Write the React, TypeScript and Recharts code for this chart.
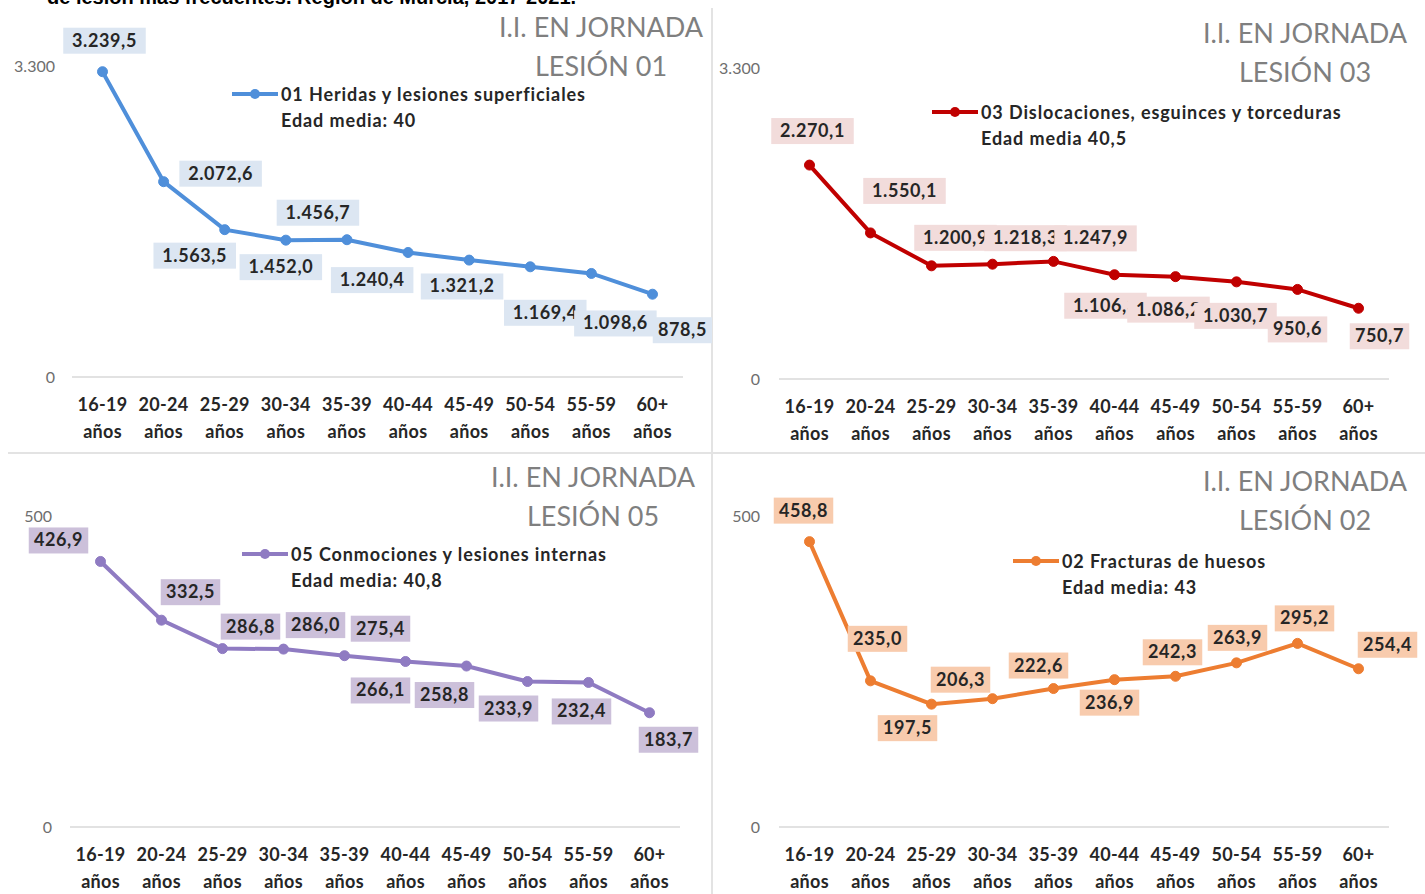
import React from 'react';
import { LineChart, Line, XAxis, YAxis, LabelList, Legend } from 'recharts';

// ---------- data ----------
const categories = ['16-19', '20-24', '25-29', '30-34', '35-39', '40-44', '45-49', '50-54', '55-59', '60+'];
const ageSuffix = 'años';

const lesion01Values = [3239.5, 2072.6, 1563.5, 1452.0, 1456.7, 1321.2, 1240.4, 1169.4, 1098.6, 878.5];
const lesion03Values = [2270.1, 1550.1, 1200.9, 1218.3, 1247.9, 1106.3, 1086.2, 1030.7, 950.6, 750.7];
const lesion05Values = [426.9, 332.5, 286.8, 286.0, 275.4, 266.1, 258.8, 233.9, 232.4, 183.7];
const lesion02Values = [458.8, 235.0, 197.5, 206.3, 222.6, 236.9, 242.3, 263.9, 295.2, 254.4];

const topAxisMax = 3300;
const bottomAxisMax = 500;

const titleLine1 = 'I.I. EN JORNADA';
const titleLines2 = ['LESIÓN 01', 'LESIÓN 03', 'LESIÓN 05', 'LESIÓN 02'];
const legendNames = [
  '01 Heridas y lesiones superficiales',
  '03 Dislocaciones, esguinces y torceduras',
  '05 Conmociones y lesiones internas',
  '02 Fracturas de huesos',
];
const legendSubs = ['Edad media: 40', 'Edad media 40,5', 'Edad media: 40,8', 'Edad media: 43'];
const headerText = 'de lesión más frecuentes. Región de Murcia, 2017-2021.';

// ---------- label placement (offsets from each point, styling only) ----------
const offsets01 = [[2, -31], [57, -8], [-30, 26], [-5, 27], [-29, -27], [54, 34], [-97, 20], [15, 46], [24, 50], [30, 36]];
const offsets03 = [[3, -34], [34, -42], [24, -28], [33, -26], [42, -23], [-9, 31], [-7, 33], [-1, 34], [0, 40], [21, 28]];
const offsets05 = [[-42, -21], [29, -28], [28, -22], [32, -24], [36, -27], [-25, 29], [-22, 29], [-19, 27], [-7, 29], [19, 27]];
const offsets02 = [[-6, -31], [7, -42], [-24, 24], [-32, -19], [-15, -23], [-5, 23], [-3, -24], [1, -25], [7, -25], [29, -24]];

const FONT = 'Lato, "Open Sans", sans-serif';

function fmtEs(v: number, decimals = 1): string {
  const [i, d] = v.toFixed(decimals).split('.');
  const withDots = i.replace(/\B(?=(\d{3})+(?!\d))/g, '.');
  return d ? withDots + ',' + d : withDots;
}

const AgeTick = (props: any) => {
  const { x, y, payload } = props;
  return (
    <text x={x} textAnchor="middle" fontFamily={FONT} fontWeight={700} fontSize={18} fill="#262626" letterSpacing={0.3}>
      <tspan x={x} y={y + 34}>{payload.value}</tspan>
      <tspan x={x} y={y + 61}>{ageSuffix}</tspan>
    </text>
  );
};

const makeLabel = (offsets: number[][], fill: string) => (props: any) => {
  const { x, y, value, index } = props;
  const [dx, dy] = offsets[index] || [0, -20];
  const text = fmtEs(Number(value));
  const w = text.length * 11.5 + 2;
  const h = 26;
  const cx = x + dx;
  const cy = y + dy;
  return (
    <g>
      <rect x={cx - w / 2} y={cy - h / 2} width={w} height={h} fill={fill} />
      <text x={cx} y={cy + 6} textAnchor="middle" fontFamily={FONT} fontWeight={700} fontSize={18} fill="#262626" letterSpacing={0.6}>
        {text}
      </text>
    </g>
  );
};

type PanelProps = {
  left: number; top: number; width: number; height: number;
  plotLeft: number; plotRight: number; plotTop: number;
  values: number[]; max: number; color: string; labelFill: string; offsets: number[][];
  title2: string; titleCx: number; titleY1: number;
  legendName: string; legendSub: string; legendX: number; legendY: number;
  tickMargin: number;
};

function Panel(p: PanelProps) {
  const rows = categories.map((c, i) => ({ cat: c, v: p.values[i] }));
  const plotH = 311;
  const renderLegend = () => (
    <div style={{ fontFamily: FONT, fontWeight: 700, fontSize: 18, color: '#262626', lineHeight: '26px', whiteSpace: 'nowrap', letterSpacing: 0.9 }}>
      <div style={{ display: 'flex', alignItems: 'center' }}>
        <svg width={46} height={12} style={{ display: 'block' }}>
          <line x1={0} y1={6} x2={46} y2={6} stroke={p.color} strokeWidth={4} />
          <circle cx={23} cy={6} r={5} fill={p.color} />
        </svg>
        <span style={{ marginLeft: 3 }}>{p.legendName}</span>
      </div>
      <div style={{ marginLeft: 49 }}>{p.legendSub}</div>
    </div>
  );
  return (
    <div style={{ position: 'absolute', left: p.left, top: p.top, width: p.width, height: p.height }}>
      <LineChart
        width={p.width}
        height={p.height}
        data={rows}
        margin={{ top: p.plotTop, right: p.width - p.plotRight, bottom: 0, left: 0 }}
      >
        <XAxis
          dataKey="cat"
          padding={{ left: 30.5, right: 30.5 }}
          axisLine={{ stroke: '#D9D9D9', strokeWidth: 1.5 }}
          tickLine={false}
          tickSize={0}
          tickMargin={0}
          interval={0}
          height={p.height - p.plotTop - plotH}
          tick={(tp: any) => <AgeTick {...tp} />}
        />
        <YAxis
          domain={[0, p.max]}
          ticks={[0, p.max]}
          width={p.plotLeft}
          axisLine={false}
          tickLine={false}
          tickSize={0}
          tickMargin={p.tickMargin}
          tick={{ fill: '#6E6E6E', fontSize: 16, fontFamily: FONT }}
          tickFormatter={(v: number) => fmtEs(v, 0)}
        />
        <Legend
          layout="horizontal"
          verticalAlign="middle"
          align="center"
          content={renderLegend}
          wrapperStyle={{ left: p.legendX, top: p.legendY - 13, width: 'auto', height: 'auto' }}
        />
        <Line
          dataKey="v"
          stroke={p.color}
          strokeWidth={4}
          dot={{ r: 5, fill: p.color, stroke: p.color, strokeWidth: 1 }}
          isAnimationActive={false}
        >
          <LabelList dataKey="v" content={makeLabel(p.offsets, p.labelFill)} />
        </Line>
      </LineChart>
      <div
        style={{
          position: 'absolute', left: p.titleCx - 150, top: p.titleY1 - 20, width: 300, textAlign: 'center',
          fontFamily: FONT, fontSize: 27, color: '#7F7F7F', lineHeight: '39px', whiteSpace: 'nowrap',
        }}
      >
        <div>{titleLine1}</div>
        <div>{p.title2}</div>
      </div>
    </div>
  );
}

export default function App() {
  return (
    <div style={{ position: 'absolute', left: 0, top: 0, width: 1425, height: 894, background: '#fff', overflow: 'hidden' }}>
      <svg width={1425} height={894} style={{ position: 'absolute', left: 0, top: 0 }}>
        <line x1={712} y1={8} x2={712} y2={894} stroke="#E3E3E3" strokeWidth={2} />
        <line x1={8} y1={453} x2={1425} y2={453} stroke="#E3E3E3" strokeWidth={2} />
        <text x={47} y={4} fontFamily='"Liberation Sans", Arial, sans-serif' fontWeight={700} fontSize={20} fill="#000">
          {headerText}
        </text>
      </svg>
      <Panel
        left={0} top={0} width={712} height={450}
        plotLeft={72} plotRight={683} plotTop={66}
        values={lesion01Values} max={topAxisMax} color="#4F8FDA" labelFill="#DCE6F2" offsets={offsets01}
        title2={titleLines2[0]} titleCx={601} titleY1={27}
        legendName={legendNames[0]} legendSub={legendSubs[0]} legendX={232} legendY={94}
        tickMargin={17}
      />
      <Panel
        left={712} top={0} width={713} height={450}
        plotLeft={67} plotRight={677} plotTop={68}
        values={lesion03Values} max={topAxisMax} color="#C00000" labelFill="#F2DCDB" offsets={offsets03}
        title2={titleLines2[1]} titleCx={593} titleY1={33}
        legendName={legendNames[1]} legendSub={legendSubs[1]} legendX={220} legendY={112}
        tickMargin={19}
      />
      <Panel
        left={0} top={450} width={712} height={444}
        plotLeft={70} plotRight={680} plotTop={66}
        values={lesion05Values} max={bottomAxisMax} color="#8F7BC2" labelFill="#CCC0DA" offsets={offsets05}
        title2={titleLines2[2]} titleCx={593} titleY1={27}
        legendName={legendNames[2]} legendSub={legendSubs[2]} legendX={242} legendY={104}
        tickMargin={18}
      />
      <Panel
        left={712} top={450} width={713} height={444}
        plotLeft={67} plotRight={677} plotTop={66}
        values={lesion02Values} max={bottomAxisMax} color="#ED7D31" labelFill="#F8CBAD" offsets={offsets02}
        title2={titleLines2[3]} titleCx={593} titleY1={31}
        legendName={legendNames[3]} legendSub={legendSubs[3]} legendX={301} legendY={111}
        tickMargin={19}
      />
    </div>
  );
}
